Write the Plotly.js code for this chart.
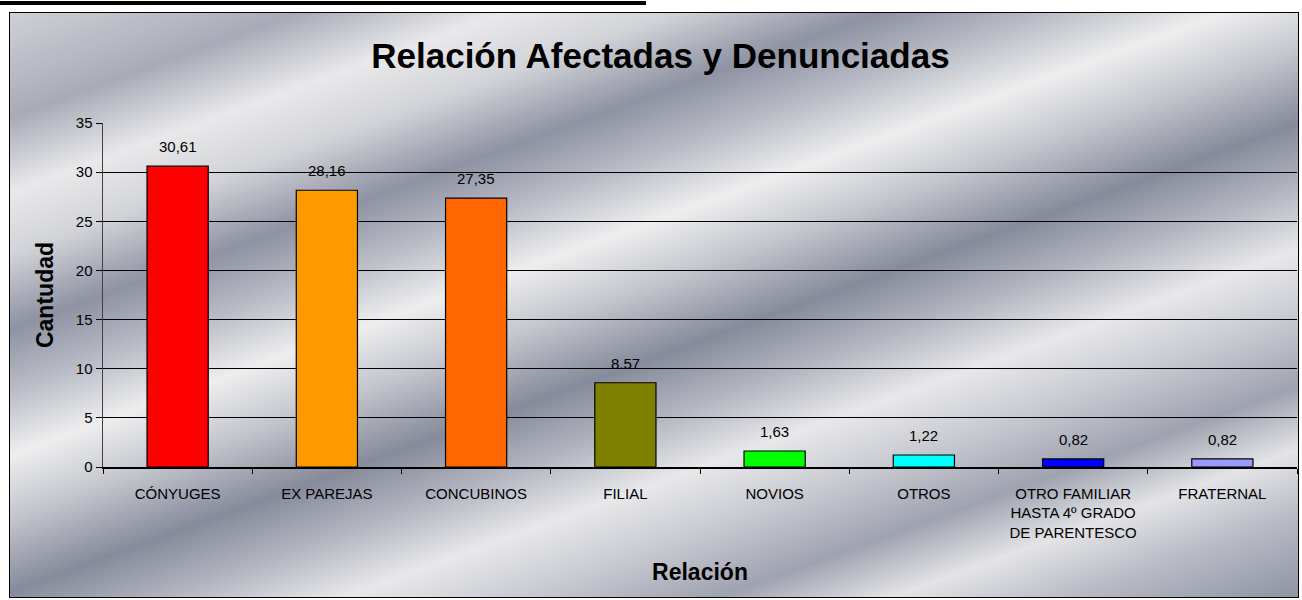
<!DOCTYPE html>
<html>
<head>
<meta charset="utf-8">
<script src="https://cdn.plot.ly/plotly-3.0.1.min.js"></script>
<style>
  html, body { margin: 0; padding: 0; background: #ffffff; width: 1302px; height: 600px; overflow: hidden; }
  #topline { position: absolute; left: 0; top: 1px; width: 646px; height: 4px; background: #000; }
  #frame {
    position: absolute; left: 9px; top: 12px; width: 1288px; height: 584px;
    border: 1px solid #000;
    background:
      linear-gradient(340deg,
        #8f94a3 0%, #b9bcc6 8%, #e4e4e6 14%, #9fa3b0 20%, #c9cbd2 27%,
        #e8e8ea 33%, #b3b6c0 39%, #868b9b 45%, #c4c6cd 52%, #eeeeef 58%,
        #babdc6 64%, #8e92a2 70%, #d2d3d8 77%, #e9e9eb 83%, #a8abb7 90%, #cfd0d6 100%);
  }
  #chart { position: absolute; left: 0; top: 0; width: 1288px; height: 584px; }
</style>
</head>
<body>
<div id="topline"></div>
<div id="frame"><div id="chart"></div></div>
<script>
const categories = ["CÓNYUGES", "EX PAREJAS", "CONCUBINOS", "FILIAL", "NOVIOS", "OTROS",
                    "OTRO FAMILIAR<br>HASTA 4º GRADO<br>DE PARENTESCO", "FRATERNAL"];
const values = [30.61, 28.16, 27.35, 8.57, 1.63, 1.22, 0.82, 0.82];
const valueLabels = ["30,61", "28,16", "27,35", "8.57", "1,63", "1,22", "0,82", "0,82"];
const barColors = ["#FF0000", "#FF9900", "#FF6600", "#808000", "#00FF00", "#00FFFF", "#0000FF", "#9999FF"];
const yTicks = [0, 5, 10, 15, 20, 25, 30, 35];

const trace = {
  type: "bar",
  x: categories,
  y: values,
  marker: { color: barColors, line: { color: "#000000", width: 1.2 } },
  hoverinfo: "x+y"
};

const annotations = categories.map((c, i) => ({
  x: c, y: values[i], xref: "x", yref: "y",
  text: valueLabels[i], showarrow: false,
  yanchor: "bottom", yshift: 9,
  font: { family: "Liberation Sans, Arial, sans-serif", size: 15, color: "#000" }
}));

const layout = {
  width: 1288, height: 584,
  margin: { l: 93, r: 1, t: 110, b: 130 },
  paper_bgcolor: "rgba(0,0,0,0)",
  plot_bgcolor: "rgba(0,0,0,0)",
  showlegend: false,
  bargap: 0.59,
  font: { family: "Liberation Sans, Arial, sans-serif", color: "#000" },
  title: {
    text: "<b>Relación Afectadas y Denunciadas</b>",
    font: { size: 35, color: "#000" },
    x: 0.505, xanchor: "center", y: 0.926, yanchor: "middle", xref: "container", yref: "container"
  },
  xaxis: {
    type: "category",
    tickvals: categories,
    ticktext: categories,
    tickson: "boundaries",
    ticks: "outside", ticklen: 5, tickcolor: "#000",
    showline: true, linecolor: "#000", linewidth: 1.5,
    showgrid: false,
    tickfont: { size: 15, color: "#000" },
    ticklabelstandoff: 12,
    title: { text: "<b>Relación</b>", font: { size: 23, color: "#000" }, standoff: 24 }
  },
  yaxis: {
    range: [0, 35],
    tickvals: yTicks,
    ticks: "outside", ticklen: 6, tickcolor: "#000",
    showline: true, linecolor: "#404040", linewidth: 1.5,
    showgrid: true, gridcolor: "#000000", gridwidth: 1,
    zeroline: false,
    tickfont: { size: 15, color: "#000" },
    title: { text: "<b>Cantudad</b>", font: { size: 23, color: "#000" }, standoff: 16 }
  },
  annotations: annotations
};

Plotly.newPlot("chart", [trace], layout, { displayModeBar: false, staticPlot: true });
</script>
</body>
</html>
